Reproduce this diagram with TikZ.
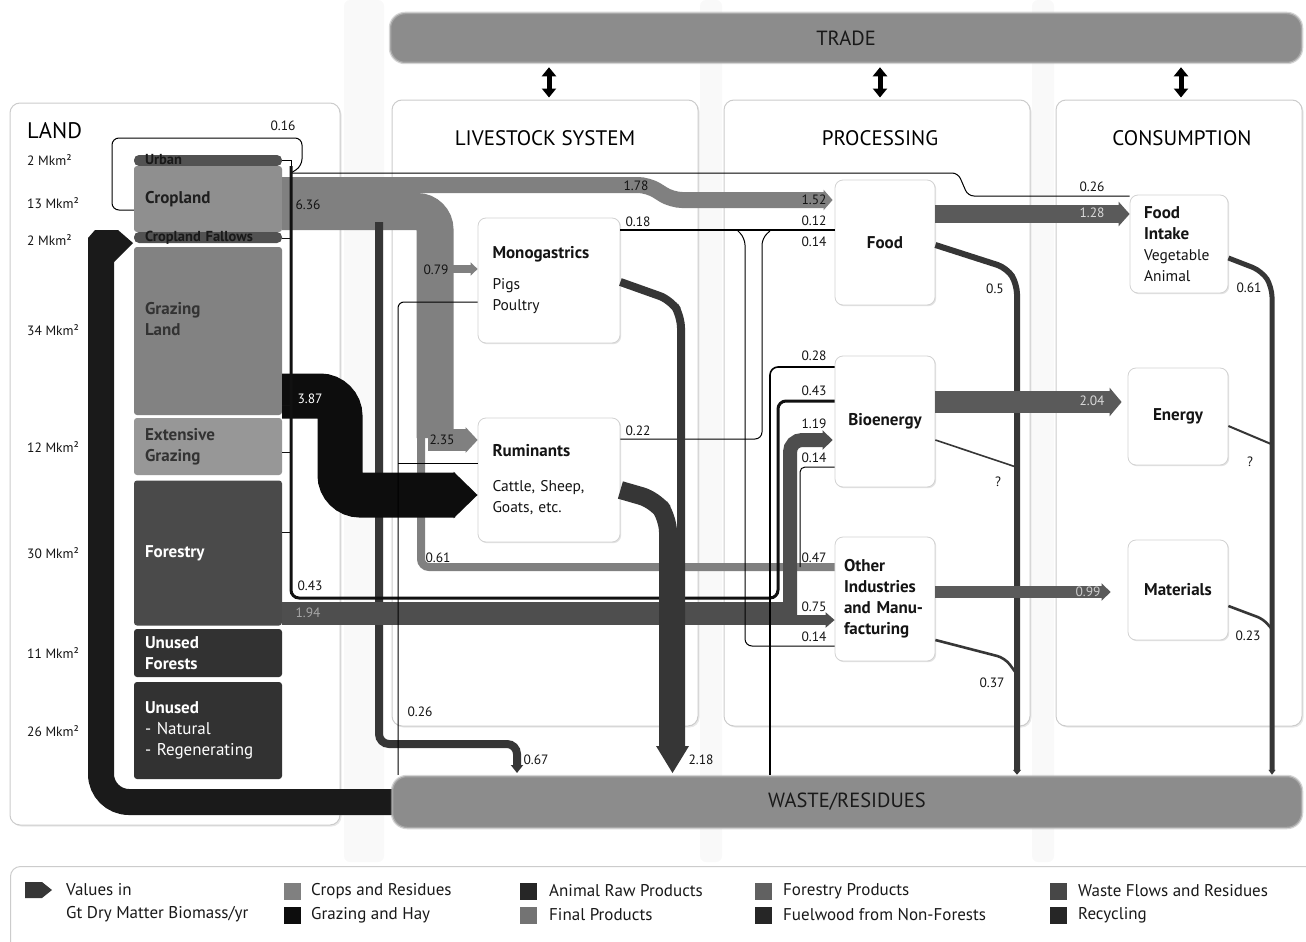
\documentclass[tikz,border=0pt]{standalone}
\usepackage{fontspec}
\setmainfont{PT Sans}
\usetikzlibrary{arrows.meta,shadows}

\definecolor{cCrop}{HTML}{808080}
\definecolor{cGraze}{HTML}{0D0D0D}
\definecolor{cWaste}{HTML}{363636}
\definecolor{cFinal}{HTML}{5A5A5A}
\definecolor{cForest}{HTML}{4E4E4E}
\definecolor{cFuel}{HTML}{111111}
\definecolor{cRecyc}{HTML}{1A1A1A}
\definecolor{cBar}{HTML}{8C8C8C}
\definecolor{cPill}{HTML}{525252}
\definecolor{cCropland}{HTML}{8F8F8F}
\definecolor{cGrazing}{HTML}{828282}
\definecolor{cExt}{HTML}{979797}
\definecolor{cForestry}{HTML}{4A4A4A}
\definecolor{cUnused}{HTML}{323232}

% bold face used for box headings
\newcommand\boxhead{\fontsize{17}{21}\selectfont\bfseries}

\begin{document}
\begin{tikzpicture}[x=1pt,y=-1pt,
  num/.style={font=\fontsize{13.5}{14}\selectfont, inner sep=0pt, text=black!92},
  panel/.style={draw=gray!40, line width=1pt, fill=white, rounded corners=10pt,
    drop shadow={opacity=0.18, shadow xshift=1.5pt, shadow yshift=-1.5pt}},
  ptitle/.style={font=\fontsize{21}{22}\selectfont, text=black, inner sep=0pt},
  pbox/.style={draw=gray!35, line width=0.8pt, fill=white, rounded corners=8pt,
    drop shadow={opacity=0.22, shadow xshift=1.2pt, shadow yshift=-1.2pt},
    font=\fontsize{15.5}{21}\selectfont, text=black!92, inner sep=0pt},
  bx/.style={font=\boxhead},
  landbox/.style={rounded corners=3pt, minimum width=148pt, text width=126pt, align=left,
    inner xsep=11pt, inner ysep=0pt, font=\fontsize{17}{21}\selectfont\bfseries},
  pill/.style={rounded corners=5pt, fill=cPill, minimum width=148pt, minimum height=11pt,
    text width=126pt, inner xsep=11pt, inner ysep=0pt, text height=8pt, text depth=1pt,
    font=\fontsize{14.5}{12}\selectfont\bfseries, text=black!90, align=left},
  area/.style={font=\fontsize{13.5}{14}\selectfont, anchor=west, inner sep=0pt, text=black!92},
  hbar/.style={fill=cBar, draw=gray!55, draw opacity=0.6, line width=2.5pt, rounded corners=15pt,
    font=\fontsize{20.5}{21}\selectfont, text=black!90, inner sep=0pt},
  fine/.style={draw=black, line width=1pt},
  legtext/.style={font=\fontsize{17}{18}\selectfont, anchor=west, inner sep=0pt, text=black!90},
  swatch/.style={minimum size=17pt, inner sep=0pt},
  dbl/.style={line width=5pt, {Triangle[length=9pt,width=14pt]}-{Triangle[length=9pt,width=14pt]}}
]
\useasboundingbox (0,0) rectangle (1306,942);

% light rails between the columns
\foreach \xa/\xb in {344/384, 700/722, 1032/1054}
  \fill[gray!5, rounded corners=6pt] (\xa,0) rectangle (\xb,862);

% column panels
\node[panel, minimum width=330pt, minimum height=722pt] (landp) at (175,464) {};
\node[panel, minimum width=306pt, minimum height=626pt] (lvs) at (545,413) {};
\node[panel, minimum width=306pt, minimum height=626pt] (proc) at (877,413) {};
\node[panel, minimum width=246pt, minimum height=626pt] (cons) at (1179,413) {};
\node[panel, minimum width=1320pt, minimum height=110pt, anchor=north west] (legp) at (10,866) {};

% panel titles
\node[ptitle, anchor=west, font=\fontsize{22.5}{23}\selectfont] (tland) at (27,131) {LAND};
\node[ptitle] (tlvs) at (545,138) {LIVESTOCK SYSTEM};
\node[ptitle] (tproc) at (880,138) {PROCESSING};
\node[ptitle] (tcons) at (1182,138) {CONSUMPTION};

% areas
\node[area] (a1) at (27,160) {2 Mkm²};
\node[area] (a2) at (27,203) {13 Mkm²};
\node[area] (a3) at (27,240) {2 Mkm²};
\node[area] (a4) at (27,330) {34 Mkm²};
\node[area] (a5) at (27,447) {12 Mkm²};
\node[area] (a6) at (27,553) {30 Mkm²};
\node[area] (a7) at (27,653) {11 Mkm²};
\node[area] (a8) at (27,731) {26 Mkm²};

% processing / livestock / consumption boxes
\node[pbox, minimum width=142pt, minimum height=125pt, text width=113pt, align=left] (mono) at (549,280.5)
  {{\boxhead Monogastrics}\\[10pt]Pigs\\Poultry};
\node[pbox, minimum width=142pt, minimum height=124pt, text width=113pt, align=left] (rum) at (549,480)
  {{\boxhead Ruminants}\\[14pt]Cattle, Sheep,\\Goats, etc.};
\node[pbox, minimum width=100pt, minimum height=125pt, bx] (food) at (885,242.5) {Food};
\node[pbox, minimum width=100pt, minimum height=131pt, bx] (bio) at (885,421.5) {Bioenergy};
\node[pbox, minimum width=100pt, minimum height=124pt, text width=82pt, align=left, bx] (other) at (885,599)
  {Other\\Industries\\and~Manu-\\facturing};
\node[pbox, minimum width=98pt, minimum height=98pt, text width=70pt, align=left] (fint) at (1179,244)
  {{\boxhead Food}\\{\boxhead Intake}\\Vegetable\\Animal};
\node[pbox, minimum width=100pt, minimum height=97pt, bx] (energy) at (1178,416.5) {Energy};
\node[pbox, minimum width=100pt, minimum height=100pt, bx] (mat) at (1178,590) {Materials};

% trade and waste bars
\node[hbar, minimum width=912pt, minimum height=50pt] (trade) at (846,38) {TRADE};
\foreach \p/\s in {lvs/4pt, proc/3pt, cons/2pt}
  \draw[dbl] ([xshift=\s, yshift=2pt]\p.north) -- ([xshift=\s, yshift=-3pt]\p.north |- trade.south);

% recycling loop back to the land
\draw[cRecyc, line width=26pt, rounded corners=28pt] (392,802) -- (101,802) -- (101,248);
\fill[cRecyc] (88,250) -- (88,238) -- (95,230) -- (118,230) -- (133,243) -- (114,262) -- (114,250) -- cycle;

\node[hbar, minimum width=910pt, minimum height=52pt] (waste) at (847,802) {WASTE/RESIDUES};

% land use boxes
\node[pill] (urban) at (208,160.5) {Urban};
\node[landbox, fill=cCropland, minimum height=66pt, text=black!88] (crop) at (208,199) {Cropland};
\node[pill] (fallow) at (208,237.5) {Cropland Fallows};
\node[landbox, fill=cGrazing, minimum height=168pt, text=black!80] (graz) at (208,331) {Grazing\\Land\\[4pt]\mbox{}};
\node[landbox, fill=cExt, minimum height=57pt, text=black!80] (ext) at (208,446.5) {Extensive\\Grazing};
\node[landbox, fill=cForestry, minimum height=145pt, text=white] (forest) at (208,553) {Forestry};
\node[landbox, fill=cUnused, minimum height=48pt, text=white] (unf) at (208,653) {Unused\\Forests};
\node[landbox, fill=cUnused, minimum height=97pt, text=white] (unn) at (208,730.5)
  {Unused\\{\mdseries - Natural}\\{\mdseries - Regenerating}};

% urban loop (0.16) and the thin line to food intake (0.26)
\draw[fine] (urban.east) -- (291,160.5) -- (291,173);
\draw[fine, rounded corners=7pt] (291,173) -- (302,166) -- (302,138) -- (112,138) -- (112,210) -- (crop.west |- 0,210);
\draw[fine, rounded corners=6pt] (291,173) -- (958,173) -- (968,196) -- (fint.west |- 0,196);

% crops and residues
\draw[cCrop, line width=8pt, rounded corners=8pt] (421,430) -- (421,567) -- (other.west |- 0,567);
\draw[cCrop, line width=16pt, rounded corners=10pt, -{Triangle[length=9pt,width=20pt]}]
  (crop.east |- 0,185) -- (648,185) -- (672,200) -- ([xshift=-2pt]food.west |- 0,200);
\draw[cCrop, line width=37pt, rounded corners=18pt] (crop.east |- 0,211.5) -- (435,211.5) -- (435,438);
\draw[cCrop, line width=22pt, -{Triangle[length=12pt,width=25pt]}] (428,440) -- (rum.west |- 0,440);
\draw[cCrop, line width=8pt, -{Triangle[length=7pt,width=13pt]}] (450,269) -- (mono.west |- 0,269);

% residues to waste (0.67)
\coordinate (w067) at (517,773);
\draw[cWaste, line width=8pt, rounded corners=10pt, -{Triangle[length=8pt,width=12pt]}]
  (379,222) -- (379,744) -- (517,744) -- (w067);

% grazing and hay (3.87)
\draw[cGraze, line width=45pt, rounded corners=20pt, -{Triangle[length=24pt,width=45pt]}]
  (graz.east |- 0,396) -- (340,396) -- (340,495) -- (rum.west |- 0,495);

% forestry products (1.94)
\draw[cForest, line width=23pt] (forest.east |- 0,613.5) -- (787,613.5);
\draw[cForest, line width=14pt, rounded corners=12pt, -{Triangle[length=10pt,width=19pt]}]
  (790,617) -- (790,440) -- ([xshift=-2pt]bio.west |- 0,440);
\draw[cForest, line width=10pt, -{Triangle[length=9pt,width=15pt]}] (780,620) -- (other.west |- 0,620);

% fuelwood from non-forests (0.43)
\draw[cFuel, line width=3pt, rounded corners=8pt]
  (291,166) -- (291,598) -- (778,598) -- (778,401) -- (bio.west |- 0,401);
\foreach \y/\src in {238/fallow, 405/graz, 452/ext, 532/forest}
  \draw[cFuel, line width=1pt] (\src.east |- 0,\y) -- (291,\y);

% animal products and by-products
\draw[fine, rounded corners=6pt] (mono.west |- 0,302) -- (398,302) -- (waste.north -| 398,0);
\draw[fine] (rum.west |- 0,463) -- (398,463);
\draw[fine, line width=1.4pt] (mono.east |- 0,230) -- (food.west |- 0,230);
\draw[fine, rounded corners=7pt] (737,230) -- (745,238) -- (745,646) -- (other.west |- 0,646);
\draw[fine, rounded corners=7pt] (rum.east |- 0,439) -- (762,439) -- (762,238) -- (770,231);

% recycled inputs to bioenergy
\draw[fine, line width=1.6pt, rounded corners=8pt] (bio.west |- 0,367) -- (770,367) -- (waste.north -| 770,0);
\draw[fine, rounded corners=5pt] (bio.west |- 0,467) -- (800,467) -- (800,567);

% livestock waste (2.18)
\draw[cWaste, line width=8pt, rounded corners=12pt] (mono.east |- 0,282) -- (671,300) -- (681,316) -- (681,748);
\draw[cWaste, line width=18pt, rounded corners=14pt] (rum.east |- 0,490) -- (655,500) -- (668,518) -- (668,748);
\coordinate (w218) at (672.5,773);
\fill[cWaste] (656,746) -- (689,746) -- (w218) -- cycle;

% waste from processing and consumption
\draw[cWaste, line width=6pt, rounded corners=10pt, -{Triangle[length=5pt,width=8pt]}]
  (food.east |- 0,245) -- (1007,268) -- (1017,284) -- (waste.north -| 1017,0);
\draw[cWaste, line width=1.6pt] (bio.east |- 0,440) -- (1016,467);
\draw[cWaste, line width=2.6pt, rounded corners=8pt] (other.east |- 0,640) -- (1005,658) -- (1016,673);
\draw[cWaste, line width=5pt, rounded corners=10pt, -{Triangle[length=5pt,width=7pt]}]
  (fint.east |- 0,258) -- (1262,271) -- (1272,287) -- (waste.north -| 1272,0);
\draw[cWaste, line width=2pt] (energy.east |- 0,426) -- (1271,444);
\draw[cWaste, line width=2.6pt, rounded corners=6pt] (mat.east |- 0,606) -- (1263,619) -- (1271,628);

% final products
\draw[cFinal, line width=18pt, -{Triangle[length=11pt,width=24pt]}] (food.east |- 0,214) -- (fint.west |- 0,214);
\draw[cFinal, line width=22pt, -{Triangle[length=12pt,width=28pt]}] (bio.east |- 0,402) -- ([xshift=-6pt]energy.west |- 0,402);
\draw[cFinal, line width=12pt, -{Triangle[length=9pt,width=17pt]}] (other.east |- 0,592) -- ([xshift=-17pt]mat.west |- 0,592);

% values
\node[num] (v016) at (283,126) {0.16};
\node[num] (v636) at (308,205) {6.36};
\node[num] (v178) at (636,186) {1.78};
\node[num] (v152) at (814,200) {1.52};
\node[num] (v018) at (638,222) {0.18};
\node[num] (v012) at (814,221) {0.12};
\node[num] (v014a) at (814,242) {0.14};
\node[num] (v026a) at (1092,187) {0.26};
\node[num, text=white!85!black] (v128) at (1092,213) {1.28};
\node[num] (v079) at (436,270) {0.79};
\node[num] (v235) at (442,440) {2.35};
\node[num] (v022) at (638,431) {0.22};
\node[num] (v05) at (995,289) {0.5};
\node[num] (v061a) at (1249,288) {0.61};
\node[num] (v028) at (814,356) {0.28};
\node[num] (v043a) at (814,391) {0.43};
\node[num] (v119) at (814,424) {1.19};
\node[num] (v014b) at (814,458) {0.14};
\node[num, text=white!85!black] (v204) at (1092,401) {2.04};
\node[num] (vq1) at (998,482) {?};
\node[num] (vq2) at (1250,462) {?};
\node[num, text=white] (v387) at (310,399) {3.87};
\node[num] (v061b) at (438,558) {0.61};
\node[num] (v047) at (814,558) {0.47};
\node[num] (v043b) at (310,586) {0.43};
\node[num, text=gray!70] (v194) at (308,613) {1.94};
\node[num] (v075) at (814,607) {0.75};
\node[num] (v014c) at (814,637) {0.14};
\node[num, text=gray!40] (v099) at (1088,592) {0.99};
\node[num] (v023) at (1248,636) {0.23};
\node[num] (v037) at (992,683) {0.37};
\node[num] (v026b) at (420,712) {0.26};
\node[num] (v067) at (536,760) {0.67};
\node[num] (v218) at (701,760) {2.18};

% legend
\fill[cWaste] (25,882) -- (42,882) -- (52,890) -- (42,898) -- (25,898) -- cycle;
\node[legtext] (l0a) at (66,890) {Values in};
\node[legtext] (l0b) at (66,914) {Gt Dry Matter Biomass/yr};
\node[swatch, fill=cCrop] (s1) at (292,891) {};
\node[legtext] (l1) at (311,891) {Crops and Residues};
\node[swatch, fill=cGraze] (s2) at (292,915) {};
\node[legtext] (l2) at (311,915) {Grazing and Hay};
\node[swatch, fill=black!85] (s3) at (528,891) {};
\node[legtext] (l3) at (549,891) {Animal Raw Products};
\node[swatch, fill=black!55] (s4) at (528,915) {};
\node[legtext] (l4) at (549,915) {Final Products};
\node[swatch, fill=black!62] (s5) at (763,891) {};
\node[legtext] (l5) at (783,891) {Forestry Products};
\node[swatch, fill=black!85] (s6) at (763,915) {};
\node[legtext] (l6) at (783,915) {Fuelwood from Non-Forests};
\node[swatch, fill=black!72] (s7) at (1058,891) {};
\node[legtext] (l7) at (1078,891) {Waste Flows and Residues};
\node[swatch, fill=black!85] (s8) at (1058,915) {};
\node[legtext] (l8) at (1078,915) {Recycling};
\end{tikzpicture}
\end{document}
